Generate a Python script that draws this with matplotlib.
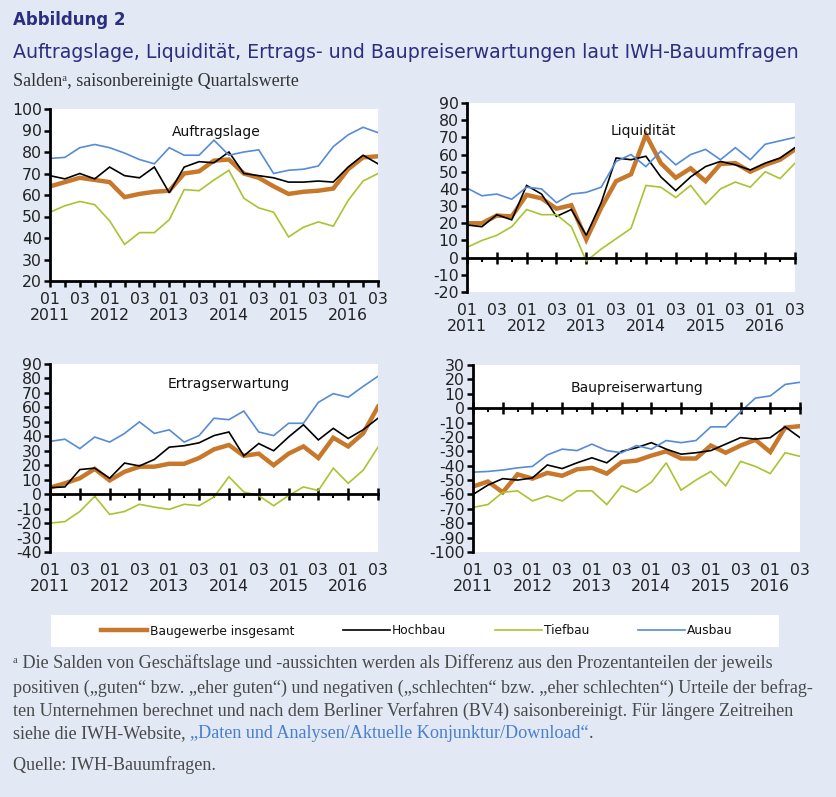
import numpy as np
import matplotlib
matplotlib.use("Agg")
import matplotlib.pyplot as plt
from matplotlib.lines import Line2D
from matplotlib.patches import Rectangle

# ---------------- data ----------------
quarters = np.arange(23)  # 2011Q1 .. 2016Q3
xtick_labels = ["01\n2011", "03", "01\n2012", "03", "01\n2013", "03",
                "01\n2014", "03", "01\n2015", "03", "01\n2016", "03"]

series_names = ["Baugewerbe insgesamt", "Hochbau", "Tiefbau", "Ausbau"]

auftrag_total = [64, 66, 68, 67, 66, 59, 60.5, 61.5, 62, 70, 71, 76, 76.5, 70, 68, 64, 60.5, 61.5, 62, 63, 72, 77.5, 78]
auftrag_hoch = [69, 67.5, 70, 67.5, 73, 69, 68, 73, 61, 73, 75.5, 75, 80, 70, 69, 68, 66, 66, 66.5, 66, 73, 78.5, 74.5]
auftrag_tief = [52, 55, 57, 55.5, 48, 37, 42.5, 42.5, 48.5, 62.5, 62, 67, 71.5, 58.5, 54, 52, 40.5, 45, 47.5, 45.5, 57.5, 66.5, 70]
auftrag_aus = [77, 77.5, 82, 83.5, 82, 79.5, 76.5, 74.5, 82, 78.5, 78.5, 85.5, 78.5, 80, 81, 70, 71.5, 72, 73.5, 82.5, 88, 91.5, 89]

liq_total = [20, 20, 24.5, 24, 36.5, 34.5, 28.5, 30.5, 10.5, 29, 44.5, 48.5, 71.5, 55, 46.5, 52, 44.5, 54.5, 55, 50, 54, 57, 63]
liq_hoch = [19, 18, 25, 22, 42, 37, 24, 28, 13, 32, 58, 57, 59, 47, 39, 47, 53, 56, 54, 51, 55, 58, 64]
liq_tief = [6, 10, 13, 18, 28, 25, 25, 18, -2, 5, 11, 17, 42, 41, 35, 42, 31, 40, 44, 41, 50, 46, 55]
liq_aus = [40.5, 36, 37, 34, 41, 40, 32, 37, 38, 41, 56, 60, 53, 62, 54, 60, 63, 57, 64, 57, 66, 68, 70]

ertrag_total = [4.5, 7.5, 11, 17.5, 9.5, 15.5, 19, 19, 21, 21, 25, 31, 34, 26.5, 28, 20, 28, 33, 25, 39, 33, 42, 60.5]
ertrag_hoch = [4.5, 5, 17, 18, 11, 21.5, 19.5, 24, 32.5, 33.5, 35.5, 40.5, 43, 26.5, 35, 30, 39.5, 48, 37.5, 45.5, 38.5, 44.5, 52.5]
ertrag_tief = [-20, -19, -12, -1.5, -14, -12, -7, -9, -10.5, -7, -8, -2, 12, 1.5, -1, -8, -1, 5, 2.5, 18, 7.5, 16.5, 32.5]
ertrag_aus = [36.5, 38, 31.5, 39.5, 36, 42, 50, 42, 44.5, 36, 40.5, 52.5, 51.5, 57.5, 43, 40.5, 49, 49, 63.5, 69.5, 67, 74.5, 81.5]

preis_total = [-54.5, -51, -58.5, -46, -49, -45, -47, -42.5, -41.5, -45.5, -37.5, -36.5, -33, -30, -35, -35, -26, -31, -26, -22, -30.5, -13.5, -12.5]
preis_hoch = [-60, -53.5, -49, -50, -48.5, -39.5, -42, -38, -34.5, -38, -30, -27.5, -24, -28.5, -32, -31, -29.5, -25, -20.5, -21.5, -20.5, -13, -20.5]
preis_tief = [-69, -67, -58.5, -57.5, -64.5, -61, -64.5, -57.5, -57.5, -67, -54, -58.5, -51.5, -38, -57, -50, -44, -54, -37, -40.5, -45.5, -31, -33.5]
preis_aus = [-44.5, -44, -43, -41.5, -40.5, -32.5, -28.5, -29.5, -25, -29.5, -31, -26, -28.5, -22.5, -24, -22.5, -13, -13, -2.5, 7, 8.5, 16.5, 18]

panel_titles = ["Auftragslage", "Liquidität", "Ertragserwartung", "Baupreiserwartung"]
panel_data = [
    (auftrag_total, auftrag_hoch, auftrag_tief, auftrag_aus),
    (liq_total, liq_hoch, liq_tief, liq_aus),
    (ertrag_total, ertrag_hoch, ertrag_tief, ertrag_aus),
    (preis_total, preis_hoch, preis_tief, preis_aus),
]
panel_ylims = [(20, 100), (-20, 90), (-40, 90), (-100, 30)]

# ---------------- style ----------------
BG = "#e2e9f5"
NAVY = "#2b2f7e"
TEXTGRAY = "#4a4a4a"
colors = ["#c8782a", "#000000", "#a9c431", "#568bd6"]
widths = [3.2, 1.2, 1.2, 1.2]

plt.rcParams["font.family"] = ["DejaVu Sans"]
plt.rcParams["axes.unicode_minus"] = False

W, H = 836, 797
fig = plt.figure(figsize=(W / 100, H / 100), dpi=100, facecolor=BG)


def rect(x0, y0, x1, y1):
    return [x0 / W, 1 - y1 / H, (x1 - x0) / W, (y1 - y0) / H]


axes_rects = [rect(50, 109, 378, 281), rect(467, 103, 795, 292),
              rect(50, 364, 378, 552), rect(473, 365, 800, 552)]
title_pos = [(0.506, 0.866), (0.537, 0.852), (0.546, 0.894), (0.50, 0.877)]

major_x = quarters[::2]
minor_x = quarters[1::2]

for i in range(4):
    ax = fig.add_axes(axes_rects[i])
    ax.set_facecolor("white")
    for k in range(4):
        ax.plot(quarters, panel_data[i][k], color=colors[k], lw=widths[k],
                solid_joinstyle="miter", zorder=3 + k)
    ax.set_xlim(quarters[0], quarters[-1])
    lo, hi = panel_ylims[i]
    ax.set_ylim(lo, hi)
    ax.set_yticks(np.arange(lo, hi + 1, 10))
    ax.tick_params(axis="y", direction="out", length=4, width=1.8,
                   labelsize=11.3, pad=2, labelcolor="#222222")
    for s in ["top", "right"]:
        ax.spines[s].set_visible(False)
    ax.spines["left"].set_linewidth(2)
    ax.spines["bottom"].set_linewidth(2)
    ax.spines["bottom"].set_position(("data", max(0, lo)))
    ax.spines["left"].set_zorder(10)
    ax.spines["bottom"].set_zorder(10)
    ax.set_xticks(major_x)
    ax.set_xticks(minor_x, minor=True)
    if i == 0:
        ax.tick_params(axis="x", which="both", direction="out", length=4,
                       width=1.8, labelbottom=False)
    else:
        ax.tick_params(axis="x", which="major", direction="inout", length=8,
                       width=1.8, labelbottom=False)
        ax.tick_params(axis="x", which="minor", direction="out", length=3,
                       width=1.5, labelbottom=False)
    sec = ax.secondary_xaxis("bottom")
    sec.set_xticks(major_x)
    sec.set_xticklabels(xtick_labels)
    sec.tick_params(axis="x", length=0, pad=8, labelsize=11.3,
                    labelcolor="#222222")
    sec.spines["bottom"].set_visible(False)
    for lab in sec.get_xticklabels():
        lab.set_linespacing(1.05)
    ax.text(title_pos[i][0], title_pos[i][1], panel_titles[i],
            transform=ax.transAxes, ha="center", va="center", fontsize=10,
            color="#111111", zorder=20)

# ---------------- headings ----------------
fig.text(13 / W, 1 - 20 / H, "Abbildung 2", fontsize=12, fontweight="bold",
         color=NAVY, va="center", ha="left")
fig.text(13 / W, 1 - 52 / H,
         "Auftragslage, Liquidität, Ertrags- und Baupreiserwartungen laut IWH-Bauumfragen",
         fontsize=13.7, color=NAVY, va="center", ha="left")
fig.text(13 / W, 1 - 82 / H, "Saldenᵃ, saisonbereinigte Quartalswerte",
         fontsize=13, color="#333333", va="center", ha="left",
         family=["Liberation Serif", "DejaVu Serif"])

# ---------------- legend ----------------
fig.patches.append(Rectangle((51 / W, 1 - 647 / H), (779 - 51) / W, 32 / H,
                             transform=fig.transFigure, facecolor="white",
                             edgecolor="none", zorder=1))
handles = [Line2D([], [], color=colors[k], lw=widths[k]) for k in range(4)]
leg = fig.legend(handles, series_names, loc="center",
                 bbox_to_anchor=(417 / W, 1 - 631 / H), ncol=4, frameon=False,
                 fontsize=8.8, handlelength=3.8, handletextpad=0.2,
                 columnspacing=4.0)
for t in leg.get_texts():
    t.set_color("#111111")

# ---------------- footnote ----------------
serif = ["Liberation Serif", "DejaVu Serif"]
FN = 13.1
fn_lines = [
    "ᵃ Die Salden von Geschäftslage und -aussichten werden als Differenz aus den Prozentanteilen der jeweils",
    "positiven („guten“ bzw. „eher guten“) und negativen („schlechten“ bzw. „eher schlechten“) Urteile der befrag-",
    "ten Unternehmen berechnet und nach dem Berliner Verfahren (BV4) saisonbereinigt. Für längere Zeitreihen",
]
fn_y = [663, 688, 711]
for line, y in zip(fn_lines, fn_y):
    fig.text(13 / W, 1 - y / H, line, fontsize=FN, color=TEXTGRAY,
             va="center", ha="left", family=serif)
t1 = fig.text(13 / W, 1 - 734 / H, "siehe die IWH-Website, ", fontsize=FN,
              color=TEXTGRAY, va="center", ha="left", family=serif)
t2 = fig.text(0, 0, "„Daten und Analysen/Aktuelle Konjunktur/Download“",
              fontsize=FN, color="#4a7fcc", va="center", ha="left",
              family=serif)
fig.canvas.draw()
r = fig.canvas.get_renderer()
bb = t1.get_window_extent(r)
t2.set_position((bb.x1 / W, 1 - 734 / H))
fig.canvas.draw()
bb2 = t2.get_window_extent(r)
fig.text(bb2.x1 / W, 1 - 734 / H, ".", fontsize=FN, color=TEXTGRAY,
         va="center", ha="left", family=serif)
fig.text(13 / W, 1 - 765 / H, "Quelle: IWH-Bauumfragen.", fontsize=FN,
         color=TEXTGRAY, va="center", ha="left", family=serif)

fig.savefig("out.png", dpi=100, facecolor=BG)
